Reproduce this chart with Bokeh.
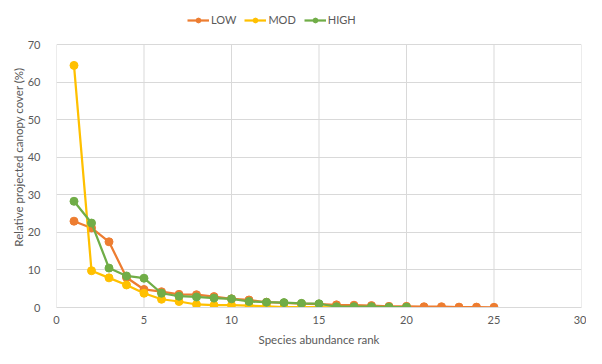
from bokeh.plotting import figure
from bokeh.models import Legend, LegendItem, Range1d, FixedTicker
from bokeh.embed import file_html
from bokeh.resources import INLINE

rank_low = list(range(1, 26))
low = [23.0, 21.2, 17.5, 8.0, 4.8, 4.2, 3.5, 3.4, 2.9, 2.3, 2.0, 1.4, 1.2, 1.0, 0.9,
       0.7, 0.6, 0.5, 0.3, 0.3, 0.2, 0.2, 0.1, 0.1, 0.05]
rank_mod = list(range(1, 17))
mod = [64.5, 9.8, 7.9, 6.0, 3.8, 2.2, 1.6, 0.8, 0.6, 0.6, 0.5, 0.3, 0.1, 0.1, 0.1, 0.05]
rank_high = list(range(1, 21))
high = [28.3, 22.5, 10.5, 8.4, 7.8, 3.8, 3.0, 2.8, 2.5, 2.3, 1.6, 1.4, 1.3, 1.1, 1.0,
        0.2, 0.2, 0.2, 0.1, 0.1]

x_ticks = [0, 5, 10, 15, 20, 25, 30]
y_ticks = [0, 10, 20, 30, 40, 50, 60, 70]
y_max = 70

FONT = "Lato"
TXT = "#595959"
GRID = "#d9d9d9"

p = figure(width=586, height=348, output_backend="svg", toolbar_location=None,
           x_range=Range1d(0, 30), y_range=Range1d(0, 80.2),
           min_border_left=56, min_border_right=5, min_border_top=6, min_border_bottom=38)
p.outline_line_color = None
p.background_fill_color = "white"
p.border_fill_color = "white"

for ax, ticks in ((p.xaxis[0], x_ticks), (p.yaxis[0], y_ticks)):
    ax.ticker = FixedTicker(ticks=ticks)
    ax.major_tick_line_color = None
    ax.minor_tick_line_color = None
    ax.major_label_text_font = FONT
    ax.major_label_text_font_size = "11px"
    ax.major_label_text_color = TXT
    ax.axis_label_text_font = FONT
    ax.axis_label_text_font_size = "11.5px"
    ax.axis_label_text_font_style = "normal"
    ax.axis_label_text_color = TXT

p.xaxis.axis_label = "Species abundance rank"
p.yaxis.axis_label = "Relative projected canopy cover (%)"
p.xaxis.axis_line_color = GRID
p.yaxis.axis_line_color = None
p.xaxis.major_label_standoff = 2
p.xaxis.axis_label_standoff = 6
p.yaxis.major_label_standoff = 10
p.yaxis.axis_label_standoff = 0
p.xgrid.grid_line_color = None
p.ygrid.grid_line_color = GRID
p.ygrid.ticker = FixedTicker(ticks=y_ticks)

# vertical grid lines limited to the 0..70 value range
p.segment(x0=x_ticks, y0=[0] * len(x_ticks), x1=x_ticks, y1=[y_max] * len(x_ticks),
          line_color=GRID, line_width=1)

series = [("LOW", rank_low, low, "#ED7D31"),
          ("MOD", rank_mod, mod, "#FFC000"),
          ("HIGH", rank_high, high, "#70AD47")]
items = []
for name, xs, ys, col in series:
    l = p.line(xs, ys, line_color=col, line_width=2.25)
    c = p.scatter(xs, ys, size=8, fill_color=col, line_color=col, marker="circle")
    items.append(LegendItem(label=name, renderers=[l, c]))

legend = Legend(items=items, orientation="horizontal", location=(131, 281),
                label_text_font=FONT, label_text_font_size="11px", label_text_color=TXT,
                glyph_width=22, glyph_height=12, label_standoff=2, spacing=8,
                border_line_color=None, background_fill_alpha=0, margin=0, padding=3)
p.add_layout(legend)

open("out.html", "w").write(file_html(p, INLINE))
